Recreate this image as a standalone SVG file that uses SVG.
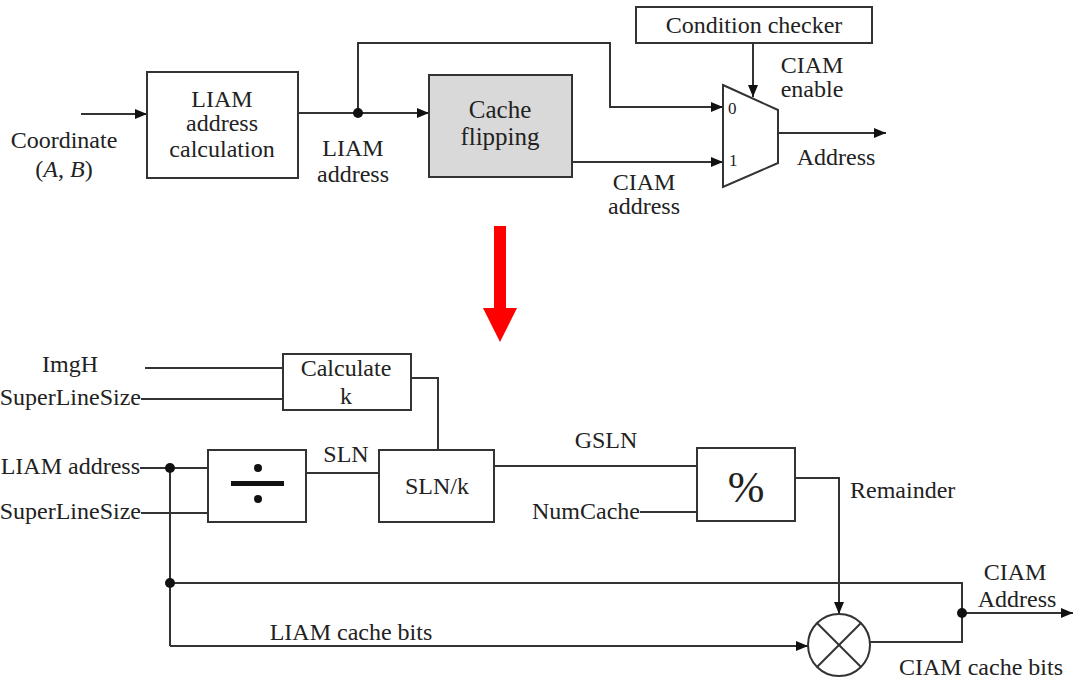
<svg xmlns="http://www.w3.org/2000/svg" width="1074" height="681" viewBox="0 0 1074 681" font-family="'Liberation Serif', Tinos, 'Times New Roman', 'DejaVu Serif', serif">
<style>
text{font-family:"Liberation Serif",Tinos,"Times New Roman","DejaVu Serif",serif;font-size:24px;fill:#222}
.c{text-anchor:middle}
.e{text-anchor:end}
.box{fill:#fff;stroke:#333;stroke-width:2}
.w{fill:none;stroke:#333;stroke-width:2}
.dot{fill:#111}
</style>
<defs>
<marker id="ah" viewBox="0 0 12 10" refX="12" refY="5" markerWidth="12" markerHeight="10" markerUnits="userSpaceOnUse" orient="auto">
<path d="M0,0 L12,5 L0,10 Z" fill="#111"/>
</marker>
</defs>
<rect width="1074" height="681" fill="#fff"/>

<g id="connectors">
<line class="w" x1="81" y1="114" x2="147" y2="114" marker-end="url(#ah)"/>
<line class="w" x1="298" y1="113" x2="429" y2="113" marker-end="url(#ah)"/>
<polyline class="w" points="358,113 358,43 610,43 610,107 723,107" marker-end="url(#ah)"/>
<line class="w" x1="572" y1="162" x2="723" y2="162" marker-end="url(#ah)"/>
<line class="w" x1="753" y1="43" x2="753" y2="97" marker-end="url(#ah)"/>
<line class="w" x1="778" y1="133" x2="886" y2="133" marker-end="url(#ah)"/>
<circle class="dot" cx="358" cy="113" r="5"/>

<line class="w" x1="145" y1="368" x2="283" y2="368"/>
<line class="w" x1="141" y1="399" x2="283" y2="399"/>
<polyline class="w" points="411,378 438,378 438,450"/>
<line class="w" x1="140" y1="468" x2="208" y2="468"/>
<line class="w" x1="141" y1="513" x2="208" y2="513"/>
<line class="w" x1="306" y1="473" x2="379" y2="473"/>
<line class="w" x1="494" y1="466" x2="697" y2="466"/>
<line class="w" x1="640" y1="512" x2="697" y2="512"/>
<polyline class="w" points="795,478 839,478 839,614" marker-end="url(#ah)"/>
<line class="w" x1="170" y1="468" x2="170" y2="646"/>
<polyline class="w" points="170,583 962,583 962,642 870,642"/>
<line class="w" x1="170" y1="646" x2="808" y2="646" marker-end="url(#ah)"/>
<line class="w" x1="962" y1="613" x2="1073" y2="613" marker-end="url(#ah)"/>
<circle class="dot" cx="170" cy="468" r="5"/>
<circle class="dot" cx="170" cy="583" r="5"/>
<circle class="dot" cx="962" cy="613" r="5"/>
</g>

<g id="liam-calc">
<rect class="box" x="147" y="72" width="151" height="106"/>
<text class="c" x="222" y="107">LIAM</text>
<text class="c" x="222" y="131">address</text>
<text class="c" x="222" y="157">calculation</text>
</g>
<g id="coordinate">
<text class="c" x="64" y="148">Coordinate</text>
<text class="c" x="64" y="177">(<tspan font-style="italic">A</tspan>, <tspan font-style="italic">B</tspan>)</text>
</g>
<g id="liam-address-label">
<text class="c" x="353" y="156">LIAM</text>
<text class="c" x="353" y="182">address</text>
</g>
<g id="cache-flipping">
<rect class="box" x="429" y="75" width="143" height="102" style="fill:#d9d9d9"/>
<text class="c" x="500" y="118" style="font-size:25px">Cache</text>
<text class="c" x="500" y="145" style="font-size:25px">flipping</text>
</g>
<g id="condition-checker">
<rect class="box" x="636" y="7" width="236" height="36"/>
<text class="c" x="754" y="33">Condition checker</text>
</g>
<g id="mux">
<polygon class="box" points="723,85 778,110 778,163 723,187"/>
<text x="728" y="114" style="font-size:17px">0</text>
<text x="729" y="166" style="font-size:17px">1</text>
</g>
<g id="labels-top">
<text class="c" x="812" y="73">CIAM</text>
<text class="c" x="812" y="97">enable</text>
<text class="c" x="836" y="165">Address</text>
<text class="c" x="644" y="190">CIAM</text>
<text class="c" x="644" y="214">address</text>
</g>

<g id="red-arrow">
<polygon points="494,226 506,226 506,308 517,308 500,342 483,308 494,308" fill="#f00"/>
</g>

<g id="inputs">
<text class="c" x="70" y="372">ImgH</text>
<text class="e" x="141" y="405">SuperLineSize</text>
<text class="e" x="140" y="474">LIAM address</text>
<text class="e" x="141" y="519">SuperLineSize</text>
<text class="e" x="640" y="519">NumCache</text>
</g>
<g id="calculate-k">
<rect class="box" x="283" y="354" width="128" height="56"/>
<text class="c" x="346" y="376">Calculate</text>
<text class="c" x="346" y="404">k</text>
</g>
<g id="divide">
<rect class="box" x="208" y="450" width="98" height="72"/>
<circle cx="258" cy="468" r="4" fill="#111"/>
<circle cx="258" cy="499" r="4" fill="#111"/>
<rect x="231" y="481" width="53" height="5" fill="#111"/>
</g>
<g id="sln-k">
<rect class="box" x="379" y="450" width="115" height="72"/>
<text class="c" x="437" y="494">SLN/k</text>
</g>
<g id="modulo">
<rect class="box" x="697" y="448" width="98" height="73"/>
<text class="c" x="746" y="502" style="font-size:44px">%</text>
</g>
<g id="multiplier">
<circle class="box" cx="839" cy="645" r="31"/>
<line class="w" x1="817" y1="623" x2="861" y2="667"/>
<line class="w" x1="861" y1="623" x2="817" y2="667"/>
</g>
<g id="labels-bottom">
<text class="c" x="346" y="462">SLN</text>
<text class="c" x="606" y="448">GSLN</text>
<text x="850" y="498">Remainder</text>
<text class="c" x="351" y="640">LIAM cache bits</text>
<text class="c" x="1015" y="580">CIAM</text>
<text class="c" x="1017" y="607">Address</text>
<text class="c" x="981" y="675">CIAM cache bits</text>
</g>
</svg>
